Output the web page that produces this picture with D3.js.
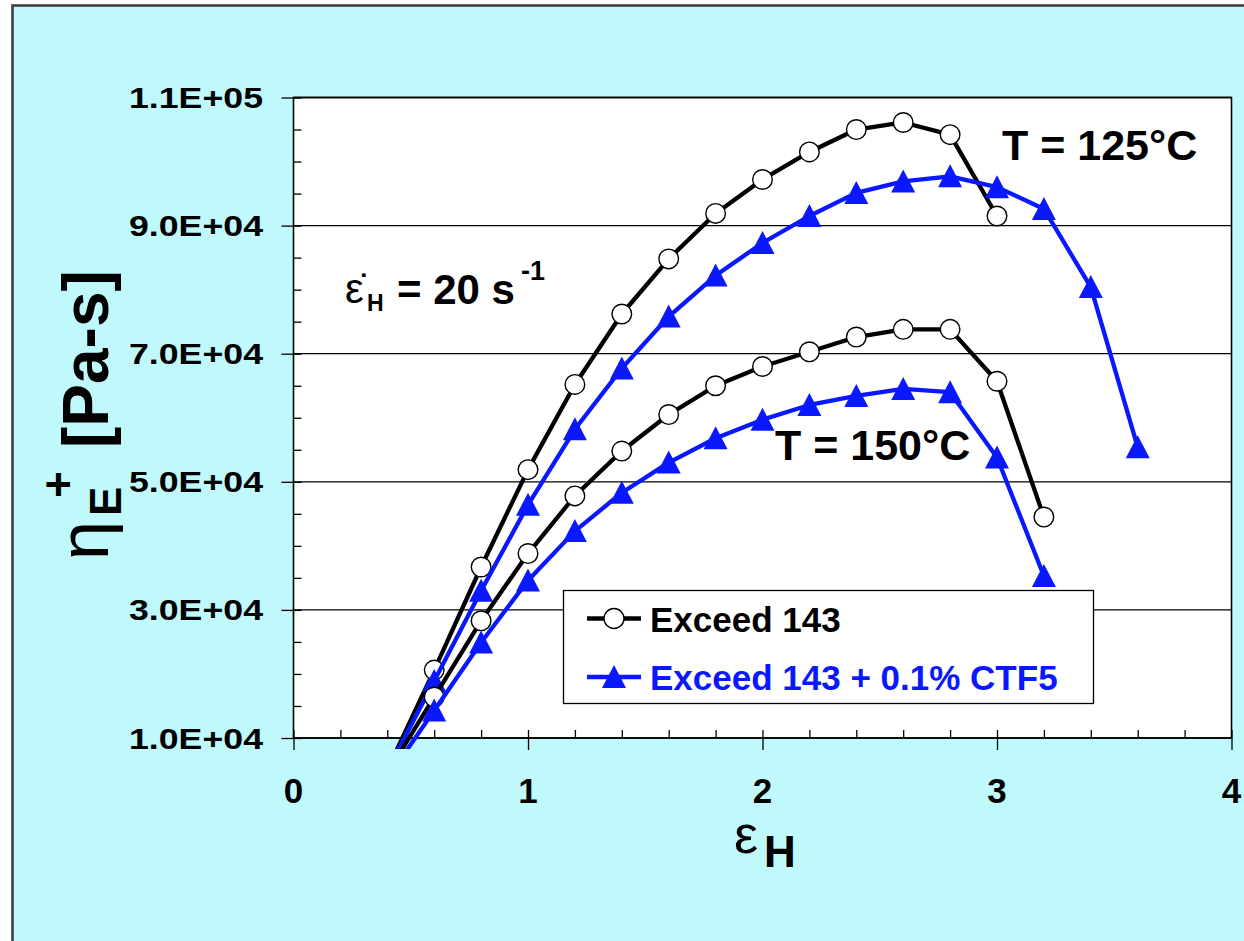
<!DOCTYPE html>
<html>
<head>
<meta charset="utf-8">
<script src="https://cdn.jsdelivr.net/npm/d3@7/dist/d3.min.js"></script>
<style>
  html, body { margin: 0; padding: 0; background: #ffffff; }
  svg { display: block; }
  text { font-family: "Liberation Sans", Arial, sans-serif; }
</style>
</head>
<body>
<svg id="chart" width="1244" height="941"></svg>
<script>
// Hencky strain at which each sample was taken
const henckyStrain = [0.4, 0.6, 0.8, 1.0, 1.2, 1.4, 1.6, 1.8, 2.0, 2.2, 2.4, 2.6, 2.8, 3.0, 3.2, 3.4, 3.6];

// Transient extensional viscosity [Pa-s], strain rate 20 1/s
const exceed125 = [5000, 20600, 36700, 51900, 65200, 76200, 84800, 91900, 97200, 101500, 105000, 106100, 104200, 91500];
const ctf125    = [4900, 18900, 33000, 46400, 58200, 67700, 75800, 82200, 87300, 91500, 95100, 96900, 97700, 96000, 92600, 80400, 55400];
const exceed150 = [4500, 16400, 28300, 38800, 47800, 54800, 60500, 65000, 68000, 70300, 72600, 73800, 73800, 65700, 44500];
const ctf150    = [3700, 14300, 24900, 34600, 42300, 48300, 53000, 56800, 59700, 62000, 63400, 64500, 64000, 53800, 35300];

// Axis ticks
const xTicks = [0, 1, 2, 3, 4];
const xMinorTicks = d3.range(0, 4.0001, 0.2);
const yTicks = [10000, 30000, 50000, 70000, 90000, 110000];
const yTickLabels = ["1.0E+04", "3.0E+04", "5.0E+04", "7.0E+04", "9.0E+04", "1.1E+05"];
const yMinorTicks = d3.range(10000, 110001, 5000);

const legendLabels = ["Exceed 143", "Exceed 143 + 0.1% CTF5"];
const BLACK = "#000000";
const BLUE = "#0a18ff";
const CYAN = "#bff9fc";

const svg = d3.select("#chart");
const W = 1244, H = 941;

const x = d3.scaleLinear().domain([0, 4]).range([293.5, 1231.5]);
const y = d3.scaleLinear().domain([10000, 110000]).range([738, 97.5]);

// page background with frame on the left and top
svg.append("rect").attr("width", W).attr("height", H).attr("fill", "#ffffff");
svg.append("rect").attr("x", 13).attr("y", 6).attr("width", W - 13).attr("height", H - 6).attr("fill", CYAN);
svg.append("path")
  .attr("d", `M12.5,${H} L12.5,5.5 L${W},5.5`)
  .attr("fill", "none").attr("stroke", "#3a3a3a").attr("stroke-width", 2.5);

const [x0, x1] = x.range();
const [yb, yt] = y.range();

// plot area
svg.append("rect").attr("x", x0).attr("y", yt).attr("width", x1 - x0).attr("height", yb - yt).attr("fill", "#ffffff");

// horizontal gridlines
svg.append("g").selectAll("line").data(yTicks).join("line")
  .attr("x1", x0).attr("x2", x1)
  .attr("y1", d => y(d)).attr("y2", d => y(d))
  .attr("stroke", BLACK).attr("stroke-width", 1.3);

// axes: major ticks outside, minor ticks inside
const axisStyle = g => { g.select(".domain").remove(); g.selectAll("line").attr("stroke", BLACK).attr("stroke-width", 1.3); };
svg.append("g").attr("transform", `translate(0,${yb})`)
  .call(d3.axisBottom(x).tickValues(xTicks).tickSize(12).tickFormat(""))
  .call(axisStyle);
svg.append("g").attr("transform", `translate(0,${yb})`)
  .call(d3.axisTop(x).tickValues(xMinorTicks).tickSize(8).tickFormat(""))
  .call(axisStyle);
svg.append("g").attr("transform", `translate(${x0},0)`)
  .call(d3.axisLeft(y).tickValues(yTicks).tickSize(12).tickFormat(""))
  .call(axisStyle);
svg.append("g").attr("transform", `translate(${x0},0)`)
  .call(d3.axisRight(y).tickValues(yMinorTicks).tickSize(8).tickFormat(""))
  .call(axisStyle);

// plot frame
svg.append("rect").attr("x", x0).attr("y", yt).attr("width", x1 - x0).attr("height", yb - yt)
  .attr("fill", "none").attr("stroke", BLACK).attr("stroke-width", 1.6);

// tick labels
svg.append("g").selectAll("text").data(xTicks).join("text")
  .attr("x", d => x(d)).attr("y", 803)
  .attr("text-anchor", "middle")
  .attr("font-size", 35).attr("font-weight", "bold")
  .text(d => d3.format("d")(d));

svg.append("g").selectAll("text").data(yTicks).join("text")
  .attr("x", 129).attr("y", d => y(d) + 10.5)
  .attr("textLength", 134).attr("lengthAdjust", "spacingAndGlyphs")
  .attr("font-size", 29).attr("font-weight", "bold")
  .text((d, i) => yTickLabels[i]);

// data series
const defs = svg.append("defs");
defs.append("clipPath").attr("id", "plotClip")
  .append("rect").attr("x", x0).attr("y", yt).attr("width", x1 - x0).attr("height", yb - yt + 11);

const series = [
  { values: exceed125, color: BLACK, marker: "circle" },
  { values: ctf125, color: BLUE, marker: "triangle" },
  { values: exceed150, color: BLACK, marker: "circle" },
  { values: ctf150, color: BLUE, marker: "triangle" }
];

const line = d3.line().x(d => x(d[0])).y(d => y(d[1]));
const plot = svg.append("g").attr("clip-path", "url(#plotClip)");
// upright triangle marker, 24 wide and 23 tall, centred on the point
const triPath = "M0,-12 L12,11 L-12,11 Z";

series.forEach(s => {
  const pts = s.values.map((v, i) => [henckyStrain[i], v]);
  plot.append("path").datum(pts)
    .attr("d", line).attr("fill", "none")
    .attr("stroke", s.color).attr("stroke-width", 4.3).attr("stroke-linejoin", "round");
  const visible = pts.filter(p => p[1] >= 10000);
  if (s.marker === "circle") {
    plot.append("g").selectAll("circle").data(visible).join("circle")
      .attr("cx", p => x(p[0])).attr("cy", p => y(p[1])).attr("r", 9.8)
      .attr("fill", "#ffffff").attr("stroke", BLACK).attr("stroke-width", 1.4);
  } else {
    plot.append("g").selectAll("path").data(visible).join("path")
      .attr("d", triPath)
      .attr("transform", p => `translate(${x(p[0])},${y(p[1])})`)
      .attr("fill", BLUE);
  }
});

// legend
const lg = svg.append("g");
lg.append("rect").attr("x", 563.5).attr("y", 590.5).attr("width", 530).attr("height", 113)
  .attr("fill", "#ffffff").attr("stroke", BLACK).attr("stroke-width", 1.3);
const legendRows = [
  { label: legendLabels[0], color: BLACK, marker: "circle", cy: 618.5, base: 632 },
  { label: legendLabels[1], color: BLUE, marker: "triangle", cy: 677, base: 689.5 }
];
legendRows.forEach(r => {
  lg.append("line").attr("x1", 587).attr("x2", 641).attr("y1", r.cy).attr("y2", r.cy)
    .attr("stroke", r.color).attr("stroke-width", 4.5);
  if (r.marker === "circle") {
    lg.append("circle").attr("cx", 614).attr("cy", r.cy).attr("r", 10)
      .attr("fill", "#ffffff").attr("stroke", BLACK).attr("stroke-width", 1.4);
  } else {
    lg.append("path").attr("d", triPath).attr("transform", `translate(614,${r.cy})`).attr("fill", BLUE);
  }
  lg.append("text").attr("x", 650).attr("y", r.base)
    .attr("font-size", 35).attr("font-weight", "bold").attr("fill", r.color)
    .text(r.label);
});

// temperature annotations
svg.append("text").attr("x", 1002).attr("y", 160).attr("font-size", 43).attr("font-weight", "bold").text("T = 125°C");
svg.append("text").attr("x", 775).attr("y", 460).attr("font-size", 43).attr("font-weight", "bold").text("T = 150°C");

// strain-rate annotation
const rate = svg.append("text").attr("font-weight", "bold");
rate.append("tspan").attr("x", 345).attr("y", 303).attr("font-size", 42).attr("font-weight", "normal").text("ε\u0307");
rate.append("tspan").attr("x", 367).attr("y", 311).attr("font-size", 23).text("H");
rate.append("tspan").attr("x", 397).attr("y", 304).attr("font-size", 42).text("= 20 s");
rate.append("tspan").attr("x", 521).attr("y", 280).attr("font-size", 27).text("-1");

// x-axis title
const xt = svg.append("text");
xt.append("tspan").attr("x", 734).attr("y", 853).attr("font-size", 54).text("ε");
xt.append("tspan").attr("x", 764).attr("y", 867).attr("font-size", 44).attr("font-weight", "bold").text("H");

// y-axis title (rotated)
const yt0 = svg.append("text").attr("transform", "translate(108,560) rotate(-90)");
yt0.append("tspan").attr("x", 0).attr("y", 0).attr("font-size", 70).text("η");
yt0.append("tspan").attr("x", 44).attr("y", 13).attr("font-size", 44).attr("font-weight", "bold").text("E");
yt0.append("tspan").attr("x", 62).attr("y", -34).attr("font-size", 46).attr("font-weight", "bold").text("+");
yt0.append("tspan").attr("x", 112).attr("y", 0).attr("font-size", 64).attr("font-weight", "bold").text("[Pa-s]");
</script>
</body>
</html>
